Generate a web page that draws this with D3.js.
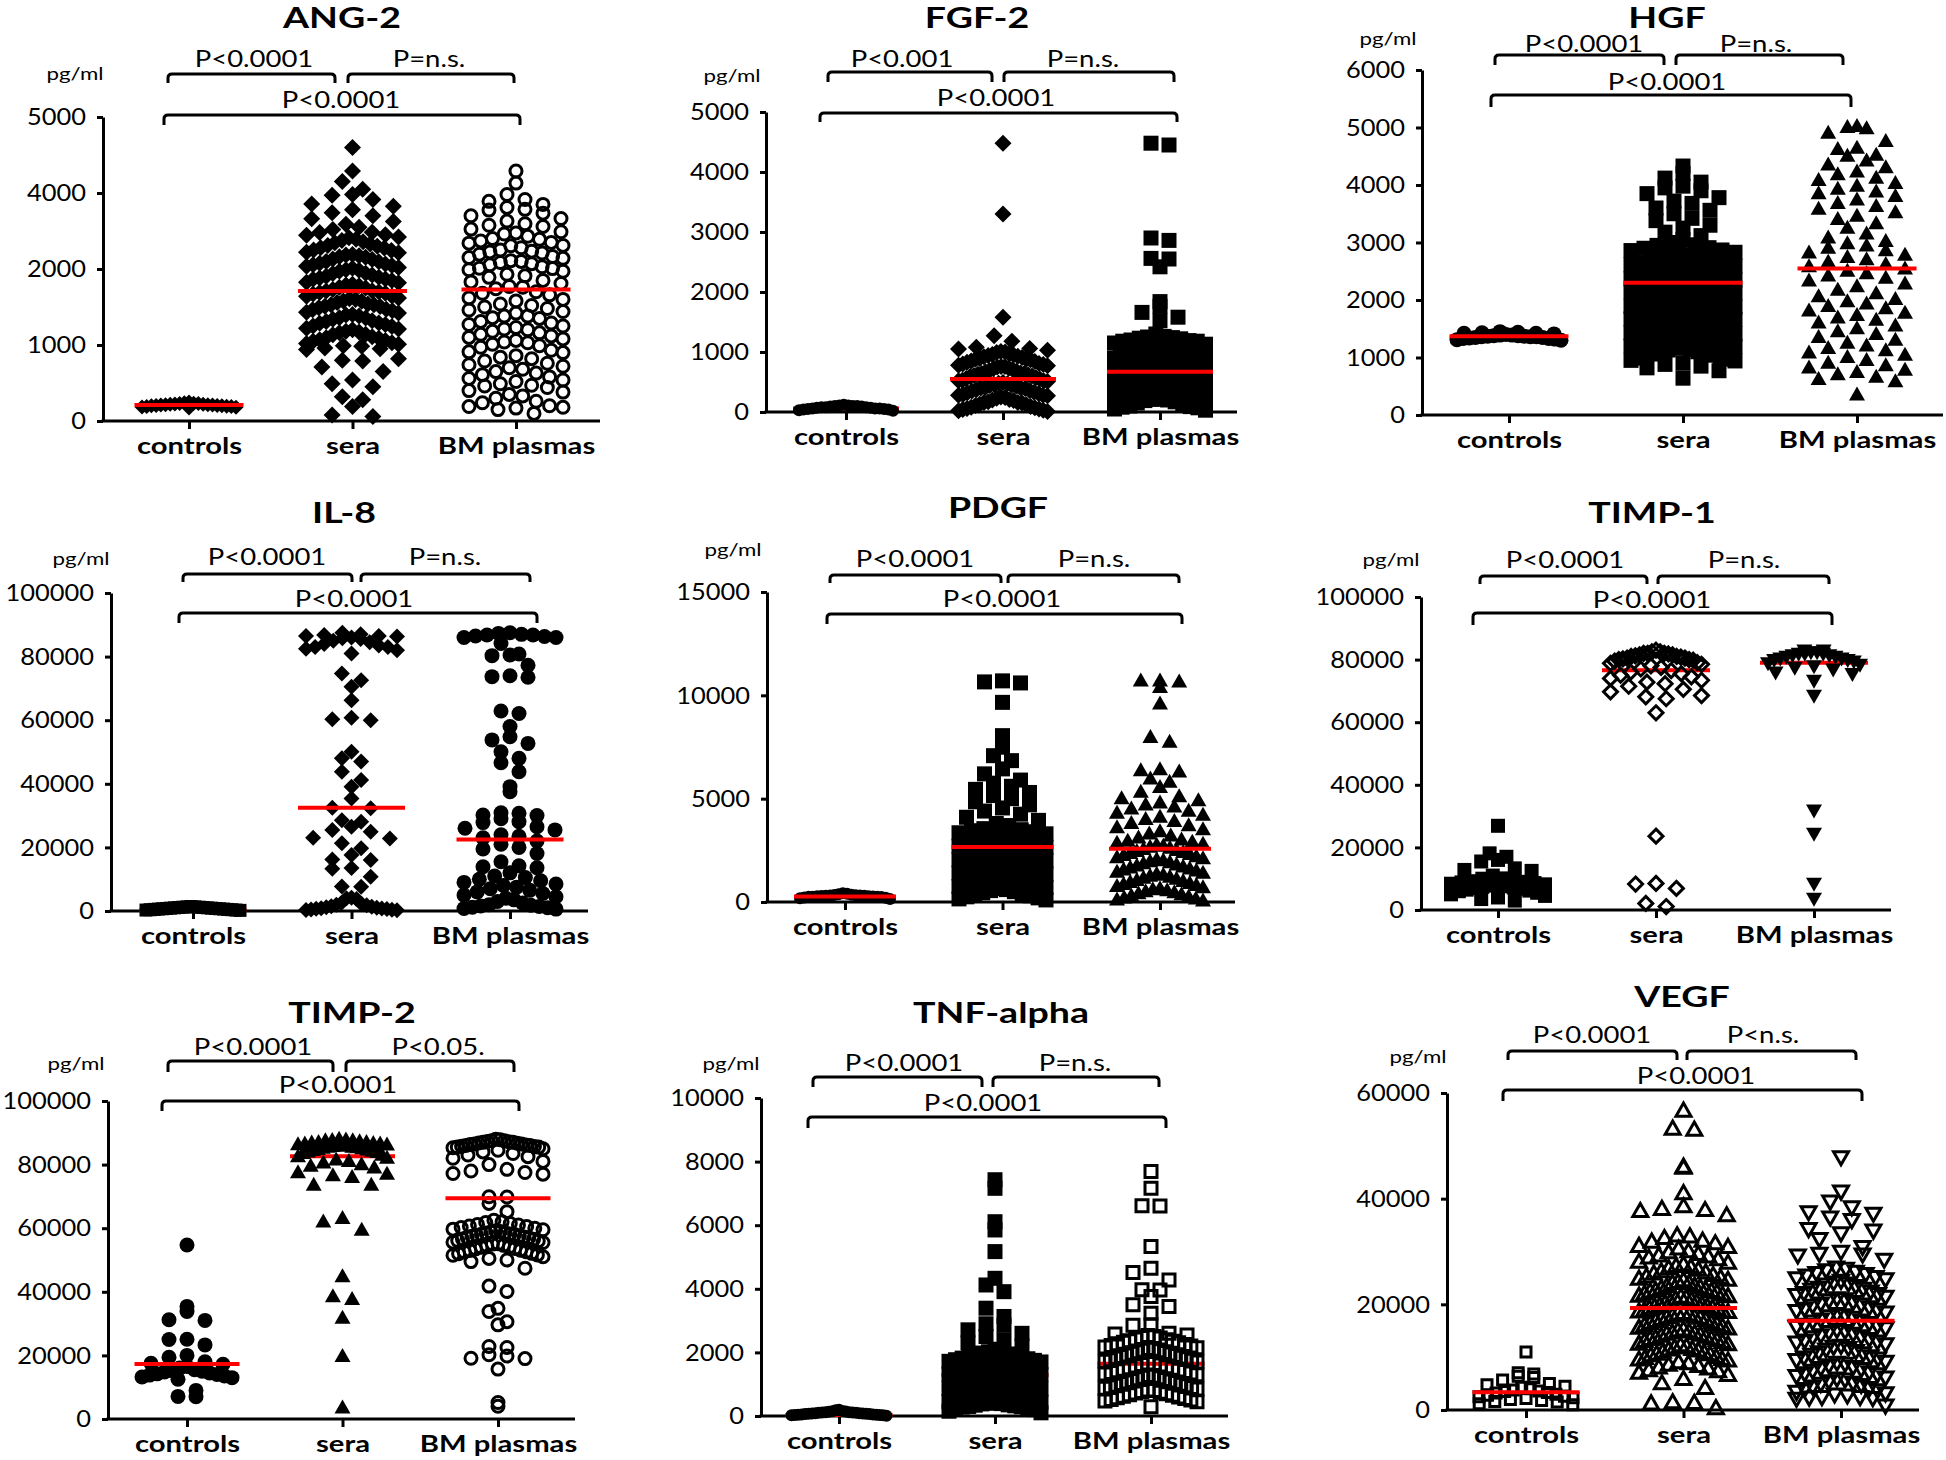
<!DOCTYPE html>
<html><head><meta charset="utf-8">
<script src="https://cdn.jsdelivr.net/npm/d3@7"></script>
<style>
body{margin:0;background:#fff;}
svg{display:block;font-family:Lato,"Open Sans",sans-serif;}
</style></head><body>
<svg id="chart" width="1946" height="1460"></svg>
<script>
// ---------------- DATA ----------------
const categories = ["controls", "sera", "BM plasmas"];
const titles = ["ANG-2","FGF-2","HGF","IL-8","PDGF","TIMP-1","TIMP-2","TNF-alpha","VEGF"];
const unitLabel = "pg/ml";

// y tick labels (as printed)
const ang2Ticks = [0,1000,2000,4000,5000];
const fgf2Ticks = [0,1000,2000,3000,4000,5000];
const hgfTicks = [0,1000,2000,3000,4000,5000,6000];
const il8Ticks = [0,20000,40000,60000,80000,100000];
const pdgfTicks = [0,5000,10000,15000];
const timp1Ticks = [0,20000,40000,60000,80000,100000];
const timp2Ticks = [0,20000,40000,60000,80000,100000];
const tnfTicks = [0,2000,4000,6000,8000,10000];
const vegfTicks = [0,20000,40000,60000];

// ANG-2
const ang2Controls = [170,185,190,195,200,205,210,210,215,220,225,230,235,240,180,200,220,250,190,215,230,205];
const ang2Sera = [4600,4290,4150,4050,3960,3940,3830,3710,3650,3560,
3480,3400,3320,3250,3180,3100,3040,2970,2900,2840,2780,2720,2660,2600,2550,2490,2430,2370,2310,2250,2190,2130,2070,2020,
1990,1970,1940,1920,1890,1870,1850,1820,1800,1780,1760,1730,1710,1690,1670,1640,1620,1600,1580,1560,1530,1510,1490,1470,1450,1420,1400,1380,1360,1340,1310,1290,1270,1250,1220,1200,1180,1160,1140,1110,1090,1070,1050,1030,1010,990,960,940,
820,800,790,710,650,540,490,450,320,280,190,80,60,
2960,2890,2820,2750,2690,2620,2560,2500,2440,2380,2320,2260,2200,2150,2090,2040,1985,1945,1905,1865,1825,1790,1750,1715,1680,1645,1610,1575,1540,1505,1465,1430,1395,1355,1320,1285,1245,1210,1170,1135,1095,1060,1020,985,950,1530,1700,1880,2110,2350];
const ang2BM = [4290,4130,3960,3830,3780,3700,3620,3570,3550,
3470,3400,3330,3260,3190,3120,3050,2980,2920,2860,2800,2740,2680,2620,2560,2500,2450,2390,2330,2280,2220,2170,2110,2060,2010,
1970,1930,1890,1850,1810,1770,1740,1700,1660,1620,1580,1540,1500,1460,1420,1380,1350,1310,1270,1230,1200,1160,1120,1080,1040,1010,
970,930,900,860,820,790,760,720,700,680,650,610,580,560,520,490,470,440,400,380,330,300,260,200,190,180,170,100,
3150,2950,2780,2610,2470,2300,2140,1990,1910,1830,1760,1680,1600,1520,1440,1360,1290,1210,1140,1060,990,910,840,740,630,540,460,350,240,150,2020,2200,2420,2700,1480,1380,1250,1180,1100,1030];
const ang2Medians = [210,1710,1730];
const ang2P = ["P<0.0001","P=n.s.","P<0.0001"];

// FGF-2
const fgf2Controls = [20,30,40,50,50,60,60,70,70,80,80,90,90,100,100,110,110,120,40,60,80,100];
const fgf2Sera = [4480,3300,1580,1270,1180,1080,1060,1050,1030,1010,990,970,950,930,910,890,870,850,830,810,790,770,750,730,710,690,670,650,630,610,590,570,550,530,510,490,470,450,430,410,390,370,350,330,310,290,270,250,230,210,190,170,150,130,110,90,70,50,30,10,880,760,640,520,400,280,160,60,
1000,960,920,880,840,800,760,720,680,640,600,560,520,480,440,400,360,320,280,240,200,160,120,80,40,20,940,780,620,460];
const fgf2BM = [4480,4450,2900,2860,2560,2550,2420,1840,1760,1660,1580,1520,1300,1260,1240,1220,1200,1180,1150,1120,1100,1070,1050,1020,1000,980,950,920,900,870,850,820,800,770,750,720,700,670,650,620,600,570,550,520,500,470,450,420,400,370,350,320,300,270,250,220,200,170,150,120,100,70,50,30,1230,1080,960,830,710,580,460,330,210,90,
1190,1130,1010,890,780,660,540,430,310,190,80,1250,1180,1110,1040,970,900,830,760,690];
const fgf2Medians = [60,550,670];
const fgf2P = ["P<0.001","P=n.s.","P<0.0001"];

// HGF
const hgfControls = [1300,1310,1320,1330,1340,1350,1350,1360,1360,1370,1370,1380,1380,1390,1400,1410,1420,1430,1440,1450,1330,1360,1390,1420];
const hgfSera = [4330,4200,4120,4050,3980,3950,3900,3850,3780,3720,3680,3600,3560,3500,3420,3380,3300,3250,3180,3120,3050,3000,2950,2900,2860,2810,2770,2730,2690,2650,2610,2570,2530,2500,2460,2420,2390,2350,2320,2280,2250,2210,2180,2140,2110,2080,2040,2010,1980,1950,1910,1880,1850,1820,1790,1760,1720,1690,1660,1630,1600,1570,1540,1500,1470,1440,1410,1380,1350,1320,1290,1260,1230,1200,1170,1140,1100,1070,1040,1000,970,940,900,880,850,820,770,640,
2960,2910,2870,2830,2790,2750,2710,2670,2630,2590,2550,2510,2480,2440,2400,2370,2330,2300,2260,2230,2190,2160,2120,2090,2060,2020,1990,1960,1930,1890,1860,1830,1800,1770,1740,1700,1670,1640,1610,1580,1550,1520,1490,1460,1430,1400,1370,1340,1310,1280,1250,1220,1190,1160,1130,1090,1060,1020,990,950];
const hgfBM = [5020,5000,4980,4900,4760,4640,4620,4520,4500,4420,4350,4300,4230,4180,4120,4080,4030,3980,3930,3880,3850,3800,3740,3680,3630,3580,3520,3460,3400,3330,3250,3150,3080,3020,2980,2940,2900,2860,2820,2780,2740,2700,2660,2620,2580,2540,2500,2460,2420,2380,2330,2280,2230,2170,2110,2060,2010,1970,1930,1890,1850,1810,1770,1730,1690,1650,1600,1550,1500,1450,1400,1350,1300,1250,1200,1160,1120,1080,1040,1000,950,900,860,820,780,740,700,660,620,580,350];
const hgfMedians = [1370,2300,2550];
const hgfP = ["P<0.0001","P=n.s.","P<0.0001"];

// IL-8
const il8Controls = [200,300,400,500,600,700,800,900,1000,1100,1200,1300,1400,400,600,800,1000,1200,300,500,700,900,1100,1300];
const il8Sera = [87500,87000,86800,86500,86500,86300,86000,85800,85500,85000,84500,84000,83500,83000,83000,82500,82000,81000,74700,72600,70500,66300,60800,60300,60000,50100,48000,47000,43800,41200,39100,35400,32500,32300,28500,28100,26500,25500,24900,23000,22800,21300,19700,17600,16200,16000,13500,13300,10800,7700,7600,4200,4000,3800,2500,2200,2000,1800,1500,1300,1200,1000,900,800,700,600,500,400,300,200];
const il8BM = [87500,87300,87000,86800,86800,86500,86300,86000,86000,84100,80800,80500,80300,77300,74000,73700,73500,62900,62100,58000,54800,53800,52700,50100,48000,46600,43800,39100,37500,30900,30700,30200,30000,29000,28100,27800,26500,26000,25500,24000,23500,23000,22000,21000,20000,19500,18100,15500,14200,13900,13600,12000,11000,10500,10000,9500,9000,8500,8000,7500,7000,6500,6000,5500,5000,4500,4000,3500,3000,2500,2000,1800,1600,1400,1200,1000,800,600];
const il8Medians = [300,32500,22500];
const il8P = ["P<0.0001","P=n.s.","P<0.0001"];

// PDGF
const pdgfControls = [150,180,200,220,240,250,260,270,280,290,300,310,320,330,350,370,400,420,260,300,340,280];
const pdgfSera = [10700,10650,10600,9660,8050,7490,7080,6840,6440,6200,5900,5750,5600,5450,5300,5150,5000,4850,4700,4550,4400,4250,4100,3950,3800,3700,
3550,3500,3450,3400,3350,3300,3250,3200,3150,3100,3050,3000,2950,2900,2850,2800,2750,2700,2650,2600,2550,2500,2450,2400,2350,2300,2250,2200,2150,2100,2050,2000,1950,1900,1850,1800,1750,1700,1650,1600,1550,1500,1450,1400,1350,1300,1250,1200,1150,1100,1050,1000,950,900,850,800,750,700,650,600,550,500,450,400,350,300,250,200,150,100];
const pdgfBM = [10700,10700,10650,10380,9580,7970,7730,6400,6360,6300,5960,5800,5550,5310,5100,5000,4900,4800,4700,4600,4500,4400,4300,4200,4100,4000,3900,3800,3700,3600,3500,3400,3300,3200,3100,3000,2900,2800,2750,2700,2600,2500,2450,2400,2300,2200,2100,2000,1900,1800,1700,1600,1500,1400,1300,1200,1100,1000,900,800,700,600,500,400,300,200,100,
2950,2850,2650,2550,2350,2250,2150,2050,1950,1850,1750,1650,1550,1450,1350,1250,1150,1050,950,850,750,650,550,450,350,250,150,50];
const pdgfMedians = [270,2660,2580];
const pdgfP = ["P<0.0001","P=n.s.","P<0.0001"];

// TIMP-1
const timp1Controls = [26900,18100,17000,16000,15500,13300,12800,12500,11000,10100,10000,9500,9200,9000,8800,8600,8400,8200,8000,7800,7600,7400,7200,7000,6800,6500,6200,6000,5500,5000,4500,4000,3500,3000];
const timp1Sera = [83000,82500,82500,82000,82000,82000,81800,81500,81500,81200,81000,81000,80800,80500,80500,80200,80000,80000,79800,79500,79000,78800,78500,78000,77500,77000,76500,76000,75500,75000,74500,74000,73400,72800,72300,71500,70500,69700,68500,68100,67500,63000,23600,8500,8300,6900,2100,1100];
const timp1BM = [83000,83000,82500,82500,82000,82000,82000,81500,81500,81000,81000,80500,80500,80000,80000,79500,79000,78500,78000,77500,77000,76000,75500,73400,68600,31900,24500,8500,3700];
const timp1Medians = [8700,76600,79000];
const timp1P = ["P<0.0001","P=n.s.","P<0.0001"];

// TIMP-2
const timp2Controls = [54700,35400,33800,31200,31000,25100,25000,23300,20000,19400,18000,17500,17200,16500,16000,15500,15200,15000,14800,14500,14200,14000,13800,13500,13200,13000,12500,9000,7100,7000];
const timp2Sera = [88000,87800,87500,87500,87200,87000,87000,86800,86500,86500,86200,86000,86000,85800,85500,85500,85200,85000,84800,84500,84200,84000,83500,83000,82500,82000,81500,81000,80500,80000,79500,79000,77500,77000,76500,76000,73500,73500,63100,62000,59400,44800,38500,37600,31700,19700,3500,
87600,86700,86300,85700,85300,84600,83800];
const timp2BM = [88000,87800,87500,87500,87200,87000,87000,86800,86500,86500,86200,86000,86000,85800,85500,85500,85000,84500,84000,83500,83000,82500,82000,81000,80000,78500,78000,77500,77200,77000,69900,69800,67800,65200,62500,62000,61500,61000,60500,60000,59500,59000,58800,58500,58200,58000,57800,57500,57200,57000,56500,56000,55500,55000,54500,54000,53500,53000,52500,52000,51500,51000,50500,50000,49500,47400,41800,40100,34800,33800,30600,29600,22800,22500,20200,19800,19100,19000,15700,5200,4000,
61800,61200,60700,60200,59700,59200,58600,58100,57600,57100,56600,56100,55600,55100,54600,54100,53600,53100,52600,52100,51600,86700,86300,85700,85300,87300];
const timp2Medians = [17300,82600,69400];
const timp2P = ["P<0.0001","P<0.05.","P<0.0001"];

// TNF-alpha
const tnfControls = [10,20,30,40,50,60,70,80,90,100,110,120,130,140,150,160,180,200,20,40,60,80,100,120,30,50,70,90,110];
const tnfSera = [7430,7160,6110,5850,5170,4330,4120,3910,3390,3130,2860,2900,2710,2600,2500,2400,2300,2200,2100,2020,2000,1950,1900,1850,1800,1750,1700,1650,1600,1550,1500,1450,1400,1350,1300,1250,1200,1150,1100,1050,1000,950,900,850,800,750,700,650,600,550,500,480,450,420,400,380,350,320,300,280,250,200,150,100,
1980,1920,1870,1820,1770,1720,1670,1620,1570,1520,1470,1420,1370,1320,1270,1220,1170,1120,1070,1020,970,920,870,820,770,720,670,620,570,520,470,430,390,340,290,260];
const tnfBM = [7690,7160,6610,6600,5330,4650,4510,4280,3970,3960,3760,3500,3440,3230,2870,2850,2600,2550,2500,2450,2400,2350,2300,2250,2200,2150,2100,2050,2000,1950,1900,1850,1800,1750,1700,1650,1600,1550,1500,1450,1400,1350,1300,1250,1200,1150,1100,1050,1000,950,900,850,800,750,700,650,600,550,500,450,290,
2580,2530,2470,2420,2370,2320,2270,2220,2170,2120,2070,2020,1970,1920,1870,1820,1770,1720,1670,1620,1570,1520,1470,1420,1370,1320,1270,1220,1170,1120,1070,1020,970,920,870,820,770,720,670,620,570,520,470];
const tnfMedians = [30,1290,1640];
const tnfP = ["P<0.0001","P=n.s.","P<0.0001"];

// VEGF
const vegfControls = [11000,7060,6800,6400,6170,5670,5000,4800,4500,4300,4000,3800,3600,3500,3300,3200,3000,2800,2600,2500,2300,2200,2000,1800,1600,1500,1200,1000];
const vegfSera = [56600,53200,53000,46000,45800,41000,38500,38000,37800,37600,36800,33000,32500,32000,31500,31000,30500,30000,29500,29000,28500,28000,27500,27000,26500,26000,25500,25000,24800,24500,24200,24000,23500,23200,23000,22500,22200,22000,21500,21200,21000,20500,20200,20000,19800,19500,19200,19000,18800,18500,18200,18000,17500,17200,17000,16500,16200,16000,15500,15200,15000,14500,14200,14000,13500,13200,13000,12500,12200,12000,11500,11200,11000,10500,10000,9500,9000,8500,8000,7500,7000,6600,5800,5000,4100,1400,1300,1200,300,
32800,31800,30800,29800,28800,27800,26800,25800,25200,24600,24000,23400,22800,22400,21800,21400,20800,20400,19600,19300,18600,18300,17800,17400,16800,16400,15800,15400,14800,14400,13800,13400,12800,12400,11800,11400,10800,10300,9800,9300,8800,8300,7800,7300,29200,27200,21600,17600,13600,9600,26200,22600,18600,14600,10600];
const vegfBM = [47900,41400,38400,37500,37200,36500,34300,34000,32400,30900,29600,29500,29300,27000,26500,26000,25500,25000,24500,24000,23500,23000,22500,22000,21500,21000,20500,20000,19500,19000,18500,18000,17500,17000,16500,16000,15500,15000,14500,14000,13500,13000,12500,12000,11500,11000,10500,10000,9500,9000,8500,8000,7500,7000,6500,6000,5500,5000,4500,4000,3500,3000,2500,2500,2400,2300,900,
26800,26200,25800,25200,24800,24200,23800,23200,22800,22200,21800,21200,20800,20200,19800,19200,18800,18200,17800,17200,16800,16200,15800,15200,14800,14200,13800,13200,12800,12200,11800,11200,10800,10200,9800,9200,8800,8200,7800,7200,6800,6200,5800,5200,4800,4200,3800,3200,2800,2200,30000,28500,33500,36000,39500];
const vegfMedians = [3340,19300,16900];
const vegfP = ["P<0.0001","P<n.s.","P<0.0001"];

const panels = [
  {ticks: ang2Ticks, groups: [ang2Controls, ang2Sera, ang2BM], medians: ang2Medians, p: ang2P},
  {ticks: fgf2Ticks, groups: [fgf2Controls, fgf2Sera, fgf2BM], medians: fgf2Medians, p: fgf2P},
  {ticks: hgfTicks, groups: [hgfControls, hgfSera, hgfBM], medians: hgfMedians, p: hgfP},
  {ticks: il8Ticks, groups: [il8Controls, il8Sera, il8BM], medians: il8Medians, p: il8P},
  {ticks: pdgfTicks, groups: [pdgfControls, pdgfSera, pdgfBM], medians: pdgfMedians, p: pdgfP},
  {ticks: timp1Ticks, groups: [timp1Controls, timp1Sera, timp1BM], medians: timp1Medians, p: timp1P},
  {ticks: timp2Ticks, groups: [timp2Controls, timp2Sera, timp2BM], medians: timp2Medians, p: timp2P},
  {ticks: tnfTicks, groups: [tnfControls, tnfSera, tnfBM], medians: tnfMedians, p: tnfP},
  {ticks: vegfTicks, groups: [vegfControls, vegfSera, vegfBM], medians: vegfMedians, p: vegfP}
];

// ---------------- LAYOUT / STYLE ----------------
const layout = [
 {ax:103, y0:421, yTop:117, xEnd:600, c1:189, c3:516, title:[342,28], unit:[75,80], topY:74, topBot:83, L:[168,335], R:[348,514], topLab:67, labX:[254,429], bigY:115, bigBot:125, B:[164,520], bigLab:[341,108], redW:109,
  markers:[["diamond",1,15],["diamond",1,17],["circle",0,15]], below:[]},
 {ax:766, y0:412, yTop:112, xEnd:1237, c1:846, c3:1160, title:[977,28], unit:[732,82], topY:72, topBot:82, L:[828,992], R:[1004,1174], topLab:67, labX:[902,1083], bigY:113, bigBot:122, B:[820,1177], bigLab:[996,106], redW:106,
  markers:[["circle",1,12],["diamond",1,17],["square",1,15]], below:[0]},
 {ax:1422, y0:415, yTop:70, xEnd:1943, c1:1509, c3:1857, title:[1667,28], unit:[1388,45], topY:55, topBot:65, L:[1495,1664], R:[1676,1843], topLab:52, labX:[1584,1756], bigY:95, bigBot:107, B:[1491,1851], bigLab:[1667,90], redW:119,
  markers:[["circle",1,15],["square",1,15],["up",1,16]], below:[]},
 {ax:111, y0:911, yTop:593, xEnd:588, c1:193, c3:510, title:[344,523], unit:[81,565], topY:574, topBot:582, L:[183,352], R:[361,530], topLab:565, labX:[267,445], bigY:613, bigBot:623, B:[179,537], bigLab:[354,607], redW:107,
  markers:[["square",1,13],["diamond",1,16],["circle",1,15]], below:[0]},
 {ax:767, y0:902, yTop:592, xEnd:1235, c1:845, c3:1160, title:[998,518], unit:[733,556], topY:575, topBot:583, L:[830,1001], R:[1008,1179], topLab:567, labX:[915,1094], bigY:614, bigBot:624, B:[827,1182], bigLab:[1002,607], redW:102,
  markers:[["circle",1,12],["square",1,15],["up",1,16]], below:[]},
 {ax:1421, y0:910, yTop:597, xEnd:1891, c1:1498, c3:1814, title:[1652,523], unit:[1391,566], topY:576, topBot:584, L:[1480,1647], R:[1658,1829], topLab:568, labX:[1565,1744], bigY:613, bigBot:625, B:[1473,1832], bigLab:[1652,608], redW:108,
  markers:[["square",1,14],["diamond",0,17],["down",1,16]], below:[0,1,2]},
 {ax:108, y0:1419, yTop:1101, xEnd:575, c1:187, c3:498, title:[352,1023], unit:[76,1070], topY:1061, topBot:1072, L:[168,333], R:[346,514], topLab:1055, labX:[253,438], bigY:1101, bigBot:1111, B:[162,519], bigLab:[338,1093], redW:105,
  markers:[["circle",1,15],["up",1,16],["circle",0,15]], below:[1]},
 {ax:761, y0:1416, yTop:1098, xEnd:1228, c1:839, c3:1151, title:[1001,1023], unit:[731,1070], topY:1077, topBot:1087, L:[813,982], R:[993,1159], topLab:1071, labX:[904,1075], bigY:1117, bigBot:1128, B:[808,1166], bigLab:[983,1111], redW:107,
  markers:[["circle",1,12],["square",1,15],["square",0,15]], below:[0,1,2]},
 {ax:1447, y0:1410, yTop:1093, xEnd:1919, c1:1526, c3:1841, title:[1682,1007], unit:[1418,1063], topY:1051, topBot:1060, L:[1508,1677], R:[1687,1856], topLab:1043, labX:[1592,1763], bigY:1090, bigBot:1101, B:[1503,1862], bigLab:[1696,1084], redW:107,
  markers:[["square",0,13],["up",0,18],["down",0,18]], below:[]}
];

const AXW = 3, BRW = 3, OPENW = 3;
// font sizes and horizontal stretch of the original lettering
const FONT = {title:[28,1.34], unit:[18,1.24], tick:[24,1.06], cat:[23,1.27], p:[23.5,1.17]};

function shapePath(shape, s, open) {
  const r = open ? s/2 - OPENW/2 : s/2;
  switch (shape) {
    case "circle": return d3.symbol(d3.symbolCircle, Math.PI*r*r)();
    case "square": return `M${-r},${-r}H${r}V${r}H${-r}Z`;
    case "diamond": return `M0,${-r}L${r},0L0,${r}L${-r},0Z`;
    case "up": { const h = r*1.75; return `M0,${-h*0.6}L${r},${h*0.4}L${-r},${h*0.4}Z`; }
    case "down": { const h = r*1.75; return `M0,${h*0.6}L${r},${-h*0.4}L${-r},${-h*0.4}Z`; }
  }
}

function placePoints(values, y, cx, size, span, y0) {
  const pts = values.map(v => ({v, py: y(v)}));
  const binH = size * 0.9;
  const groups = d3.groups(pts, p => Math.floor((y0 - p.py) / binH));
  groups.forEach(([, arr]) => {
    arr.sort((a, b) => b.v - a.v);
    const n = arr.length;
    const step = n > 1 ? Math.min(size * 1.2, span / (n - 1)) : 0;
    const slots = d3.range(n).map(i => i - (n - 1) / 2).sort((a, b) => Math.abs(a) - Math.abs(b) || a - b);
    arr.forEach((p, i) => { p.px = cx + slots[i] * step; });
  });
  return pts;
}

function bracket(g, x1, x2, yTop, yBot) {
  const c = 4;
  g.append("path")
    .attr("d", `M${x1},${yBot}V${yTop + c}Q${x1},${yTop} ${x1 + c},${yTop}H${x2 - c}Q${x2},${yTop} ${x2},${yTop + c}V${yBot}`)
    .attr("fill", "none").attr("stroke", "#000").attr("stroke-width", BRW);
}

function label(g, x, y, txt, f, weight) {
  g.append("text").attr("transform", `translate(${x},${y}) scale(${f[1]},1)`)
    .attr("text-anchor", "middle").attr("font-size", f[0]).attr("font-weight", weight || 400)
    .attr("fill", "#000").text(txt);
}

const svg = d3.select("#chart");

panels.forEach((P, k) => {
  const L = layout[k];
  const g = svg.append("g");
  const n = P.ticks.length;
  const y = d3.scaleLinear().domain(P.ticks)
    .range(P.ticks.map((t, i) => L.y0 - i * (L.y0 - L.yTop) / (n - 1)));
  const x = d3.scalePoint().domain(categories).range([L.c1, L.c3]);

  label(g, L.title[0], L.title[1], titles[k], FONT.title, 700);
  label(g, L.unit[0], L.unit[1], unitLabel, FONT.unit);

  // y axis
  const ya = g.append("g").attr("transform", `translate(${L.ax},0)`)
    .call(d3.axisLeft(y).tickValues(P.ticks).tickFormat(d3.format("d")).tickSize(6).tickSizeOuter(0).tickPadding(11));
  ya.selectAll("path,line").attr("stroke-width", AXW);
  ya.selectAll("text").attr("font-size", FONT.tick[0]).attr("font-family", "Lato").attr("fill", "#000")
    .attr("x", -17 / FONT.tick[1]).attr("transform", `scale(${FONT.tick[1]},1)`);

  // x axis
  g.append("line").attr("x1", L.ax - AXW/2).attr("x2", L.xEnd).attr("y1", L.y0).attr("y2", L.y0)
    .attr("stroke", "#000").attr("stroke-width", AXW);
  const xa = g.append("g").attr("transform", `translate(0,${L.y0})`)
    .call(d3.axisBottom(x).tickSize(8).tickPadding(6));
  xa.select(".domain").remove();
  xa.selectAll("line").attr("stroke-width", AXW);
  xa.selectAll("text").attr("font-size", FONT.cat[0]).attr("font-weight", 700).attr("font-family", "Lato")
    .attr("fill", "#000").attr("dy", null).attr("y", 33).attr("transform", `scale(${FONT.cat[1]},1)`)
    .attr("x", 0);
  xa.selectAll(".tick").each(function() {
    const t = d3.select(this);
    const m = /translate\(([-\d.]+)/.exec(t.attr("transform"));
    // keep the label centred on its category while stretched
    t.select("text").attr("x", 0);
  });

  // median lines and points
  const drawMedian = (i) => {
    const cx = x(categories[i]);
    g.append("line").attr("x1", cx - L.redW/2).attr("x2", cx + L.redW/2)
      .attr("y1", y(P.medians[i])).attr("y2", y(P.medians[i]))
      .attr("stroke", "#ff0000").attr("stroke-width", 4);
  };
  P.groups.forEach((vals, i) => {
    if (L.below.includes(i)) drawMedian(i);
    const [shape, filled, size] = L.markers[i];
    const cx = x(categories[i]);
    const pts = placePoints(vals, y, cx, size, L.redW - size, L.y0);
    const d = shapePath(shape, size, !filled);
    g.append("g").selectAll("path").data(pts).join("path")
      .attr("d", d).attr("transform", p => `translate(${p.px},${p.py})`)
      .attr("fill", filled ? "#000" : "none")
      .attr("stroke", filled ? "none" : "#000")
      .attr("stroke-width", filled ? 0 : OPENW);
  });
  P.groups.forEach((vals, i) => { if (!L.below.includes(i)) drawMedian(i); });

  // significance brackets
  bracket(g, L.L[0], L.L[1], L.topY, L.topBot);
  bracket(g, L.R[0], L.R[1], L.topY, L.topBot);
  bracket(g, L.B[0], L.B[1], L.bigY, L.bigBot);
  label(g, L.labX[0], L.topLab, P.p[0], FONT.p);
  label(g, L.labX[1], L.topLab, P.p[1], FONT.p);
  label(g, L.bigLab[0], L.bigLab[1], P.p[2], FONT.p);
});
</script>
</body></html>
